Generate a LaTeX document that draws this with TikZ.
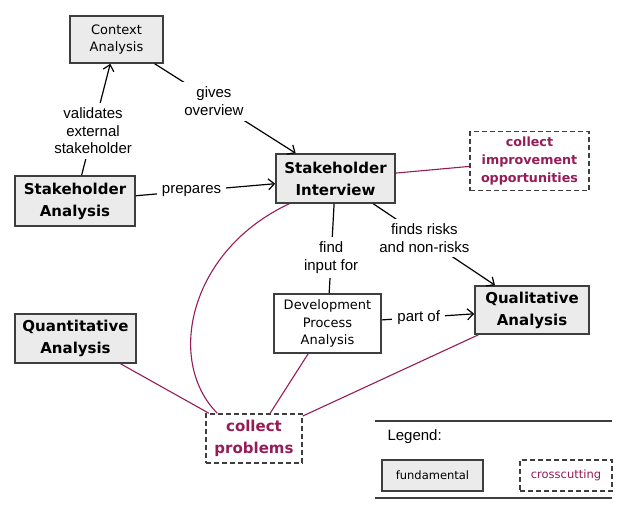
\documentclass[tikz,border=0pt]{standalone}
\usepackage{fontspec}
\setmainfont{Liberation Sans}
\newfontfamily\boxfont{DejaVu Sans}
\usetikzlibrary{arrows.meta}
\definecolor{crosspurple}{RGB}{150,28,88}
\definecolor{boxgray}{RGB}{235,235,235}
\definecolor{edgegray}{RGB}{62,62,62}

\begin{document}
\begin{tikzpicture}[x=1pt,y=-1pt,
  fund/.style={draw=edgegray,line width=1.6pt,fill=boxgray,align=center,inner sep=0pt},
  cross/.style={draw=edgegray,line width=1.5pt,dash pattern=on 5pt off 3pt,fill=white,
    align=center,inner sep=0pt,text=crosspurple},
  big/.style={font=\boxfont\bfseries\fontsize{15}{22}\selectfont},
  small/.style={font=\boxfont\fontsize{13}{17.5}\selectfont},
  rel/.style={draw=black,line width=1.2pt,-{Straight Barb[length=6pt,width=11pt]}},
  link/.style={draw=crosspurple,line width=1.1pt},
  lbl/.style={fill=white,align=center,inner sep=5pt,font=\fontsize{15}{17.5}\selectfont}]
  \useasboundingbox (0,0) rectangle (630,515);
  % boxes
  \node[fund,small,minimum width=93,minimum height=47] (ctx) at (116.5,39.5) {Context\\Analysis};
  \node[fund,big,minimum width=120,minimum height=50] (sa) at (75,201) {Stakeholder\\Analysis};
  \node[fund,big,minimum width=119,minimum height=49] (si) at (335.5,178.5) {Stakeholder\\Interview};
  \node[cross,font=\boxfont\bfseries\fontsize{12.7}{18}\selectfont,minimum width=119,minimum height=59]
    (cio) at (529.5,161) {collect\\improvement\\opportunities};
  \node[fund,small,fill=white,minimum width=107,minimum height=59] (dpa) at (327.5,323.5) {Development\\Process\\Analysis};
  \node[fund,big,minimum width=114,minimum height=48] (qual) at (532,310) {Qualitative\\Analysis};
  \node[fund,big,minimum width=121,minimum height=49] (quant) at (75.5,338.5) {Quantitative\\Analysis};
  \node[cross,big,minimum width=96,minimum height=49] (cp) at (254,438.5) {collect\\problems};
  % fundamental relations
  \draw[rel] (sa) -- node[lbl,pos=.4] {validates\\external\\stakeholder} (ctx);
  \draw[rel] (ctx) -- node[lbl,pos=.42] {gives\\overview} (si);
  \draw[rel] (sa) -- node[lbl,pos=.4] {prepares} (si);
  \draw[rel] (si) -- node[lbl,pos=.42] {finds risks\\and non-risks} (qual);
  \draw[rel,-] (si) -- node[lbl,pos=.6] {find\\input for} (dpa);
  \draw[rel] (dpa) -- node[lbl,pos=.4] {part of} (qual);
  % crosscutting links
  \draw[link] (si) -- (cio);
  \draw[link] ([xshift=14pt]si.south west) .. controls (190,250) and (165,360) .. ([xshift=12pt]cp.north west);
  \draw[link] (quant) -- (cp);
  \draw[link] (dpa) -- (cp);
  \draw[link] (qual) -- (cp);
  % legend
  \draw[edgegray,line width=2pt] (375,421) -- (612,421);
  \draw[edgegray,line width=2pt] (375,498) -- (612,498);
  \node[anchor=west,font=\fontsize{15}{17}\selectfont] (leg) at (384,437) {Legend:};
  \node[fund,font=\boxfont\fontsize{11.5}{14}\selectfont,minimum width=101,minimum height=31] (lfund) at (432.5,475.5) {fundamental};
  \node[cross,font=\boxfont\fontsize{11.5}{14}\selectfont,minimum width=92,minimum height=31] (lcross) at (566,475.5) {crosscutting};
\end{tikzpicture}
\end{document}
